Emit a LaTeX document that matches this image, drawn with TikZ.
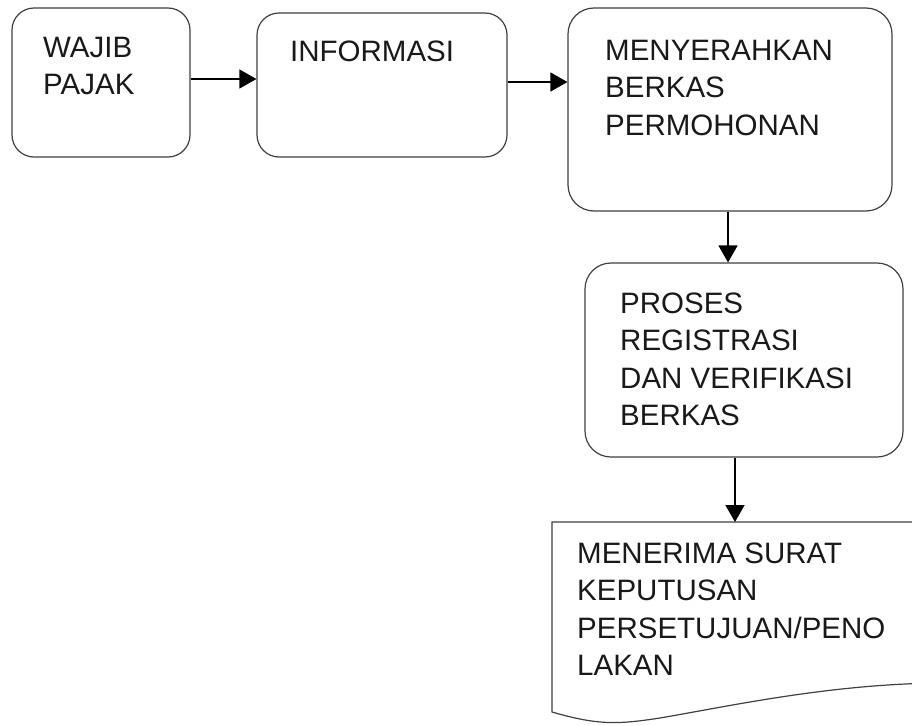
\documentclass[tikz,border=0pt]{standalone}
\usepackage{fontspec}
\setmainfont{Liberation Sans}
\usetikzlibrary{arrows.meta}
\tikzset{
  box/.style={draw=black!75, line width=1.2pt, rectangle, inner sep=0pt, fill=white},
  lbl/.style={anchor=base west, inner sep=0pt, text=black!90},
  arr/.style={draw=black, line width=1.5pt, -{Triangle[length=17pt,width=19pt]}},
}
\newcommand{\lbltext}[1]{\parbox[t]{340pt}{\fontsize{29.5}{37.5}\selectfont\raggedright #1}}
\begin{document}
\begin{tikzpicture}[x=1pt,y=-1pt]
\useasboundingbox (0,0) rectangle (912,725);
\clip (0,0) rectangle (912,725);
\fill[white] (0,0) rectangle (912,725);
% boxes
\node[box, rounded corners=22pt, minimum width=178pt, minimum height=149pt] (b1) at (101,82.5) {};
\node[box, rounded corners=22pt, minimum width=250pt, minimum height=144pt] (b2) at (382,85) {};
\node[box, rounded corners=26pt, minimum width=324pt, minimum height=203pt] (b3) at (730,109.5) {};
\node[box, rounded corners=26pt, minimum width=318pt, minimum height=194pt] (b4) at (744,360) {};
% document shape
\draw[black!75, line width=1.2pt, fill=white] (552,522) -- (940,522) -- (940,683)
  .. controls (830,684) and (730,706) .. (660,718)
  .. controls (620,724) and (600,726) .. (552,712) -- cycle;
\coordinate (doctop) at (735,522);
% labels
\node[lbl] (t1) at (43,57) {\lbltext{WAJIB\\PAJAK}};
\node[lbl] (t2) at (290,62) {\lbltext{INFORMASI}};
\node[lbl] (t3) at (605,60) {\lbltext{MENYERAHKAN\\BERKAS\\PERMOHONAN}};
\node[lbl] (t4) at (620,313) {\lbltext{PROSES\\REGISTRASI\\DAN VERIFIKASI\\BERKAS}};
\node[lbl] (t5) at (577,563) {\lbltext{MENERIMA SURAT\\KEPUTUSAN\\PERSETUJUAN/PENO\\LAKAN}};
% connectors
\coordinate (y1) at (0,79);
\coordinate (y2) at (0,82);
\coordinate (x3) at (728,0);
\coordinate (x4) at (735,0);
\draw[arr] (b1.east |- y1) -- (b2.west |- y1);
\draw[arr] (b2.east |- y2) -- (b3.west |- y2);
\draw[arr] (b3.south -| x3) -- (b4.north -| x3);
\draw[arr] (b4.south -| x4) -- (doctop);
\end{tikzpicture}
\end{document}
